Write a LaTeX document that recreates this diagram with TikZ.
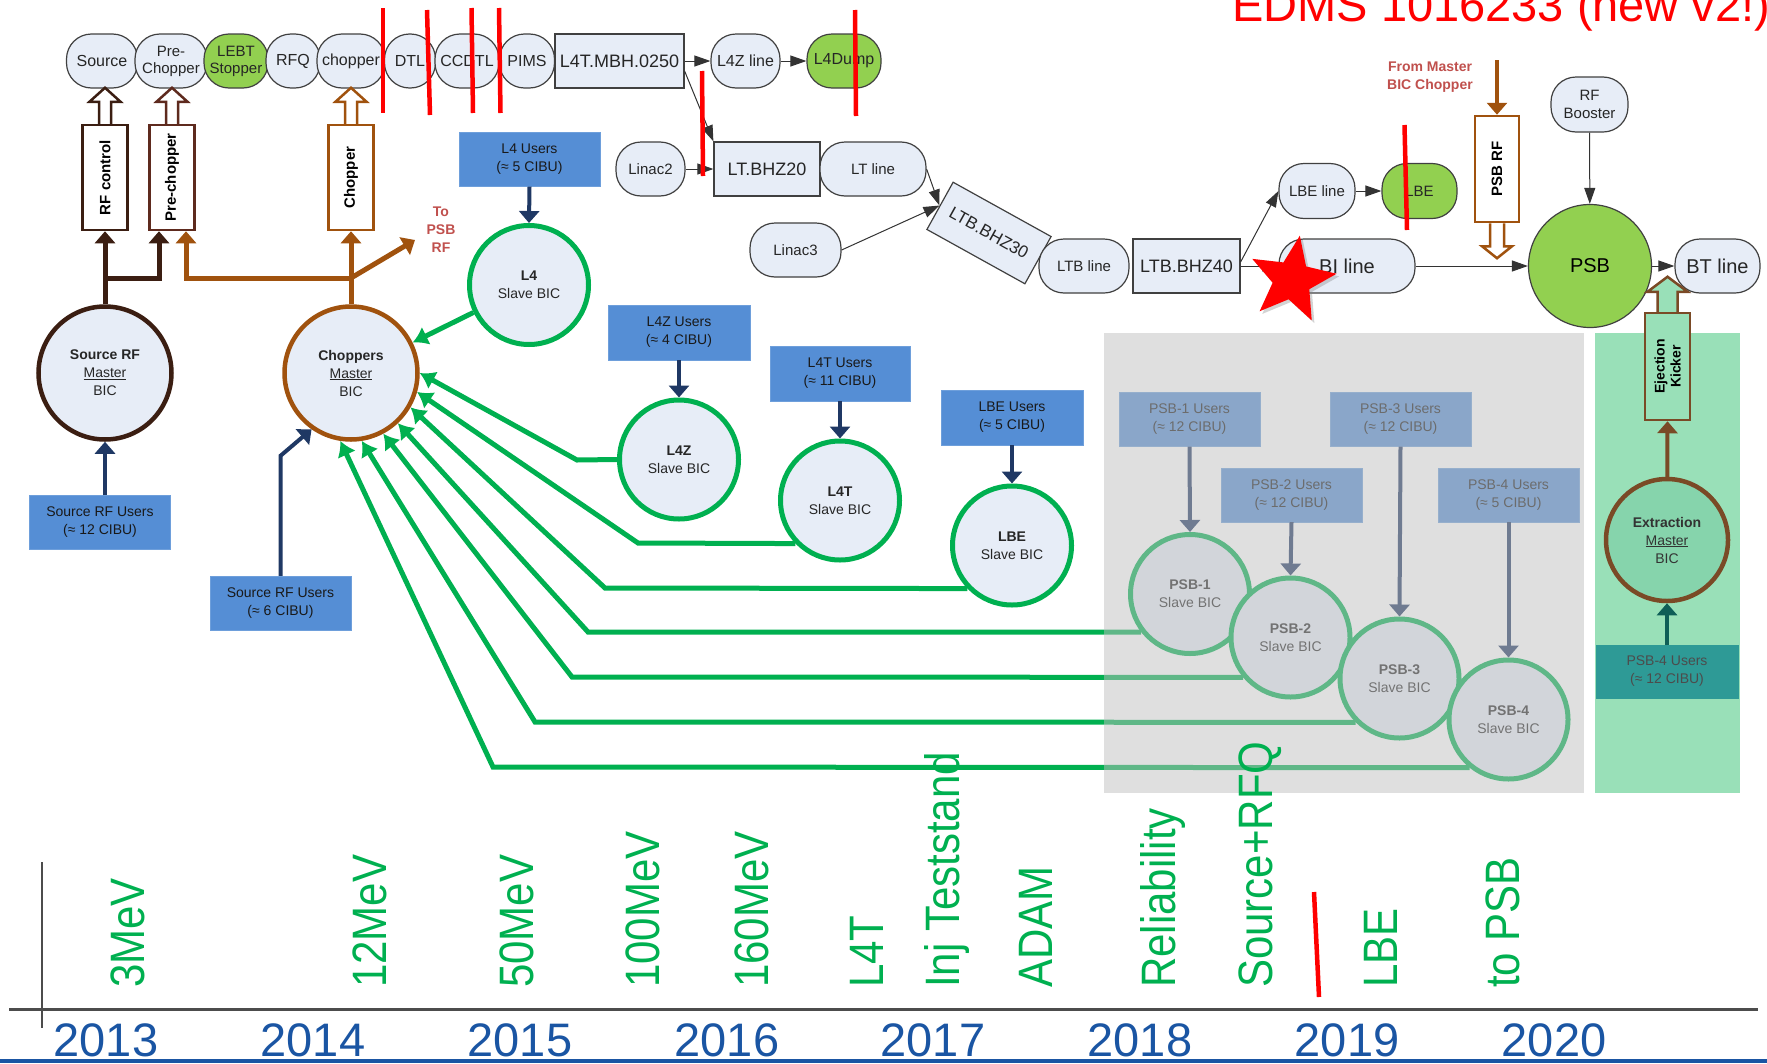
\documentclass[tikz,border=0pt]{standalone}
\usepackage{fontspec}
\setmainfont{Liberation Sans}
\usetikzlibrary{arrows.meta,shapes.geometric,shadows}

\definecolor{beamFill}{HTML}{E7EDF7}
\definecolor{beamGreen}{HTML}{92D050}
\definecolor{userBlue}{HTML}{558ED5}
\definecolor{navyArrow}{HTML}{1F3864}
\definecolor{bicGreen}{HTML}{00B050}
\definecolor{rfBrown}{HTML}{3B1E12}
\definecolor{preBrown}{HTML}{5E2A1E}
\definecolor{chopBrown}{HTML}{A0520E}
\definecolor{noteRed}{HTML}{C0504D}
\definecolor{yearBlue}{HTML}{1A55A3}
\definecolor{extrGreen}{HTML}{99E0B8}
\definecolor{extrFill}{HTML}{86D4AC}
\definecolor{extrBrown}{HTML}{7A4A26}
\definecolor{tealBox}{HTML}{2E9A96}
\definecolor{tealArrow}{HTML}{0F5E57}

\tikzset{
  beamline/.style={draw=black!75, line width=1.2pt, fill=beamFill, rounded corners=25pt,
    minimum height=54pt, inner sep=1pt, align=center, text=black!85,
    font=\fontsize{16}{17}\selectfont},
  beammagnet/.style={draw=black!75, line width=1.2pt, fill=beamFill, minimum height=54pt,
    inner sep=1pt, text=black!85, font=\fontsize{18}{20}\selectfont},
  beamdump/.style={beamline, fill=beamGreen},
  beamflow/.style={draw=black!80, line width=1pt, -{Triangle[length=16pt,width=11pt]}},
  users/.style={fill=userBlue, draw=userBlue!85!white, minimum width=141pt, minimum height=54pt,
    inner sep=0pt, align=center, text=black!90, font=\fontsize{14}{18}\selectfont},
  slavebic/.style={circle, draw=bicGreen, line width=5pt, fill=beamFill, minimum size=119pt,
    inner sep=0pt, align=center, text=black!85, font=\fontsize{14}{18}\selectfont},
  masterbic/.style={circle, line width=4.5pt, fill=beamFill, minimum size=133pt,
    inner sep=0pt, align=center, text=black!85, font=\fontsize{14}{18}\selectfont},
  userlink/.style={draw=navyArrow, line width=4pt, -{Triangle[length=12pt,width=20pt]}},
  biclink/.style={draw=bicGreen, line width=5pt, -{Latex[length=15pt,width=20pt]}},
  ctrlbox/.style={draw, line width=2.5pt, fill=white, rotate=90, minimum width=105pt,
    minimum height=45pt, inner sep=0pt, align=center, text=black,
    font=\bfseries\fontsize{15}{16}\selectfont},
  ctrlhead/.style={line width=2.5pt, fill=white, line join=miter},
  ctrlwire/.style={line width=5pt, -{Triangle[length=12pt,width=20pt]}},
  note/.style={text=noteRed, align=center, font=\bfseries\fontsize{14}{18}\selectfont},
  year/.style={text=yearBlue, anchor=base, inner sep=0pt, font=\fontsize{47}{47}\selectfont},
  milestone/.style={text=bicGreen, rotate=90, yscale=1.15, anchor=base west, inner sep=0pt,
    font=\fontsize{42}{42}\selectfont},
  strike/.style={draw=red, line width=4.5pt},
}

\begin{document}
\begin{tikzpicture}[x=1pt, y=-1pt]
\useasboundingbox (0,0) rectangle (1767,1063);

% extraction band (under its own items)
\fill[extrGreen] (1595,333) rectangle (1740,793);

% Linac4 beam line
\node[beamline, minimum width=71pt] (src) at (102,61) {Source};
\node[beamline, minimum width=72pt, font=\fontsize{15}{17}\selectfont] (prech) at (171,61) {Pre-\\Chopper};
\node[beamdump, minimum width=64pt, font=\fontsize{15}{17}\selectfont] (lebt) at (236,61) {LEBT\\Stopper};
\node[beamline, minimum width=54pt] (rfq) at (293,61) {RFQ};
\node[beamline, minimum width=68pt] (chopline) at (351,61) {chopper};
\node[beamline, minimum width=51pt] (dtl) at (410,61) {DTL};
\node[beamline, minimum width=64pt] (ccdtl) at (467,61) {CCDTL};
\node[beamline, minimum width=55pt] (pims) at (527,61) {PIMS};
\node[beammagnet, minimum width=129pt] (mbh) at (619.5,61) {L4T.MBH.0250};
\node[beamline, minimum width=69pt] (l4zline) at (745.5,61) {L4Z line};
\node[beamdump, minimum width=74pt] (l4dump) at (844,61) {L4Dump};

% transfer lines to the booster
\node[beamline, minimum width=69pt, font=\fontsize{15}{17}\selectfont] (linac2) at (650.5,169) {Linac2};
\node[beammagnet, minimum width=106pt] (bhz20) at (767,169) {LT.BHZ20};
\node[beamline, minimum width=106pt, font=\fontsize{15}{17}\selectfont] (ltline) at (873,169) {LT line};
\node[beammagnet, minimum width=112pt, rotate=-29, font=\fontsize{17}{18}\selectfont] (bhz30) at (989,233) {LTB.BHZ30};
\node[beamline, minimum width=91pt, font=\fontsize{15}{17}\selectfont] (linac3) at (795.5,250) {Linac3};
\node[beamline, minimum width=90pt, font=\fontsize{15}{17}\selectfont] (ltbline) at (1084,266) {LTB line};
\node[beammagnet, minimum width=107pt] (bhz40) at (1186.5,266) {LTB.BHZ40};
\node[beamline, minimum width=136pt, font=\fontsize{20}{20}\selectfont] (biline) at (1347,266) {BI line};
\node[circle, draw=black!75, line width=1.2pt, fill=beamGreen, minimum size=123pt,
  font=\fontsize{20}{20}\selectfont] (psb) at (1590,266) {PSB};
\node[beamline, minimum width=85pt, font=\fontsize{20}{20}\selectfont] (btline) at (1717.5,266) {BT line};
\node[beamline, minimum width=76pt, minimum height=55pt, font=\fontsize{15}{17}\selectfont] (lbeline) at (1317,191) {LBE line};
\node[beamdump, minimum width=75pt, minimum height=55pt, font=\fontsize{15}{17}\selectfont] (lbe) at (1419.5,191) {LBE};
\node[beamline, minimum width=77pt, minimum height=55pt, font=\fontsize{15}{18}\selectfont] (rfbooster) at (1589.5,104.5) {RF\\Booster};

\draw[beamflow] (mbh) -- (l4zline);
\draw[beamflow] (l4zline) -- (l4dump);
\draw[beamflow] ([yshift=-10pt]mbh.east) -- (bhz20.north west);
\draw[beamflow] (linac2) -- (bhz20);
\draw[beamflow] (ltline.east) -- (bhz30.west);
\draw[beamflow] (linac3.east) -- (bhz30.west);
\draw[beamflow] (bhz40) -- (biline);
\draw[beamflow] ([yshift=4pt]bhz40.east) -- (lbeline.west);
\draw[beamflow] (lbeline) -- (lbe);
\draw[beamflow] (biline) -- (psb);
\draw[beamflow] (psb) -- (btline);
\draw[beamflow] (rfbooster) -- (psb);

% control signals (hollow arrows)
\node[ctrlbox, draw=rfBrown] (rfctrl) at (105,177.5) {RF control};
\node[ctrlbox, draw=preBrown] (prectrl) at (172,177.5) {Pre-chopper};
\node[ctrlbox, draw=chopBrown] (chopctrl) at (351,177.5) {Chopper};
\foreach \ctl/\col in {rfctrl/rfBrown, prectrl/preBrown, chopctrl/chopBrown}
  \draw[ctrlhead, draw=\col] ([xshift=-6pt]\ctl.east) -- ++(0,-22) -- ++(-9.5,0) -- ++(15.5,-14)
    -- ++(15.5,14) -- ++(-9.5,0) -- ++(0,22);
\node[ctrlbox, draw=chopBrown, minimum width=106pt, minimum height=44pt] (psbrf) at (1497,169) {PSB RF};
\draw[ctrlhead, draw=chopBrown] ([xshift=-7pt]psbrf.west) -- ++(0,23) -- ++(-8,0) -- ++(15,12)
  -- ++(15,-12) -- ++(-8,0) -- ++(0,-23);
\node[ctrlbox, draw=extrBrown, fill=extrGreen, minimum width=107pt, font=\bfseries\fontsize{14}{16}\selectfont]
  (ejkick) at (1667.5,366.5) {Ejection\\Kicker};
\draw[ctrlhead, draw=extrBrown, fill=extrGreen] ([xshift=-10pt]ejkick.east) -- ++(0,-20) -- ++(-10,0)
  -- ++(20,-15) -- ++(20,15) -- ++(-10,0) -- ++(0,20);

% master BICs
\node[masterbic, draw=rfBrown] (srcMaster) at (105,373) {\textbf{Source RF}\\\underline{Master}\\BIC};
\node[masterbic, draw=chopBrown] (chopMaster) at (351,373) {\textbf{Choppers}\\\underline{Master}\\BIC};
\node[users] (srcUsers) at (100,522.5) {Source RF Users\\(≈ 12 CIBU)};
\node[users] (chopUsers) at (280.5,603) {Source RF Users\\(≈ 6 CIBU)};

\coordinate (rfjoin) at (105,278);
\coordinate (chopjoin) at (351,278);
\coordinate (topsb) at (415,240);
\node[note] (topsbrf) at (441,230) {To\\PSB\\RF};
\node[note] (frommaster) at (1430,77) {From Master\\BIC Chopper};
\coordinate (chopfeed) at (1497,60);
\draw[ctrlwire, draw=rfBrown] (srcMaster.north) -- (rfctrl.west);
\draw[ctrlwire, draw=rfBrown] (rfjoin) -| ([xshift=-13pt]prectrl.west);
\draw[ctrlwire, draw=chopBrown] (chopMaster.north) -- (chopctrl.west);
\draw[ctrlwire, draw=chopBrown] (chopjoin) -| ([xshift=14pt]prectrl.west);
\draw[ctrlwire, draw=chopBrown] (chopjoin) -- (topsb);
\draw[ctrlwire, draw=chopBrown, line width=4pt] (chopfeed) -- (psbrf.east);

% slave BICs and their users
\node[slavebic] (l4) at (529,285) {\textbf{L4}\\Slave BIC};
\node[users] (l4Users) at (529.5,159.5) {L4 Users\\(≈ 5 CIBU)};
\node[slavebic] (l4z) at (679,459.5) {\textbf{L4Z}\\Slave BIC};
\node[users, minimum width=142pt, minimum height=55pt] (l4zUsers) at (679,332.5) {L4Z Users\\(≈ 4 CIBU)};
\node[slavebic] (l4t) at (840,500.5) {\textbf{L4T}\\Slave BIC};
\node[users, minimum width=140pt, minimum height=55pt] (l4tUsers) at (840,373.5) {L4T Users\\(≈ 11 CIBU)};
\node[slavebic] (lbeBic) at (1012,545.5) {\textbf{LBE}\\Slave BIC};
\node[users, minimum width=142pt, minimum height=55pt] (lbeUsers) at (1012,417.5) {LBE Users\\(≈ 5 CIBU)};
\node[slavebic] (psb1) at (1190,594) {\textbf{PSB-1}\\Slave BIC};
\node[users] (psb1Users) at (1189.5,419.5) {PSB-1 Users\\(≈ 12 CIBU)};
\node[slavebic] (psb2) at (1290.5,637.5) {\textbf{PSB-2}\\Slave BIC};
\node[users] (psb2Users) at (1291.5,495) {PSB-2 Users\\(≈ 12 CIBU)};
\node[slavebic] (psb3) at (1399.5,678.5) {\textbf{PSB-3}\\Slave BIC};
\node[users] (psb3Users) at (1400.5,419.5) {PSB-3 Users\\(≈ 12 CIBU)};
\node[slavebic] (psb4) at (1508.5,719.5) {\textbf{PSB-4}\\Slave BIC};
\node[users] (psb4Users) at (1508.5,495) {PSB-4 Users\\(≈ 5 CIBU)};

\draw[userlink] (srcUsers.north -| srcMaster.south) -- (srcMaster.south);
\draw[userlink] (chopUsers.north) -- ++(0,-120) -- (chopMaster.-125);
\foreach \usr/\bic in {l4Users/l4, l4zUsers/l4z, l4tUsers/l4t, lbeUsers/lbeBic,
    psb1Users/psb1, psb2Users/psb2, psb3Users/psb3, psb4Users/psb4}
  \draw[userlink] (\usr.south) -- (\bic.north);

% slave -> master links
\draw[biclink] (l4) -- (chopMaster);
\draw[biclink] (l4z.west) -- (577,460) -- (chopMaster.0);
\draw[biclink] (l4t.224) -- (638,543) -- (chopMaster.-16);
\draw[biclink] (lbeBic.224) -- (605,588) -- (chopMaster.-30);
\draw[biclink] (psb1.218) -- (588,632) -- (chopMaster.-47);
\draw[biclink] (psb2.220) -- (572,677) -- (chopMaster.-62);
\draw[biclink] (psb3.225) -- (535,722) -- (chopMaster.-81);
\draw[biclink] (psb4.231) -- (493,767) -- (chopMaster.-99);

% extraction master
\node[masterbic, draw=extrBrown, fill=extrFill, minimum size=122pt, text=black!80] (extr) at (1667,540)
  {\textbf{Extraction}\\\underline{Master}\\BIC};
\node[users, fill=tealBox, draw=tealBox, minimum width=142pt, minimum height=53pt, text=black!70]
  (extrUsers) at (1667,671.5) {PSB-4 Users\\(≈ 12 CIBU)};
\draw[userlink, draw=tealArrow] (extrUsers) -- (extr);
\draw[ctrlwire, draw=extrBrown, line width=4pt] (extr) -- (ejkick.west);

% faded booster part
\fill[black!25, opacity=0.5] (1104,333) rectangle (1584,793);

% broken link
\node[star, star points=5, star point ratio=2.3, fill=red, minimum size=90pt, inner sep=0pt,
  rotate=-10, drop shadow={opacity=0.35}] (hit) at (1292,280) {};

% title
\node[anchor=base west, text=red, inner sep=0pt, font=\fontsize{47}{47}\selectfont] (edms)
  at (1232,21) {EDMS 1016233 (new v2!)};

% time line
\draw[line width=3pt, black!70] (9,1009) -- (1758,1009);
\draw[line width=2.5pt, black!70] (42,862) -- (42,1028);
\draw[line width=4pt, yearBlue] (0,1061) -- (1767,1061);
\foreach \yx/\yr [count=\i] in {106/2013, 313/2014, 520/2015, 727/2016, 933/2017, 1140/2018,
    1347/2019, 1554/2020}
  \node[year] (yr\i) at (\yx,1056) {\yr};
\foreach \bx/\txt [count=\i] in {144/3MeV, 386/12MeV, 533/50MeV, 659/100MeV, 768/160MeV,
    883/L4T, 959/Inj Teststand, 1052/ADAM, 1175/Reliability, 1272/Source+RFQ, 1397/LBE, 1519/to PSB}
  \node[milestone] (ms\i) at (\bx,988) {\txt};

% struck out
\draw[strike] (383,8) -- (383,113);
\draw[strike] (427,10) -- (430,115);
\draw[strike] (471.5,8) -- (473,113);
\draw[strike] (499,8) -- (500.5,113);
\draw[strike] (855,10) -- (856,116);
\draw[strike] (702,71) -- (703,176);
\draw[strike] (1404.5,125) -- (1407,230);
\draw[strike] (1314,892) -- (1319,997);
\end{tikzpicture}
\end{document}
